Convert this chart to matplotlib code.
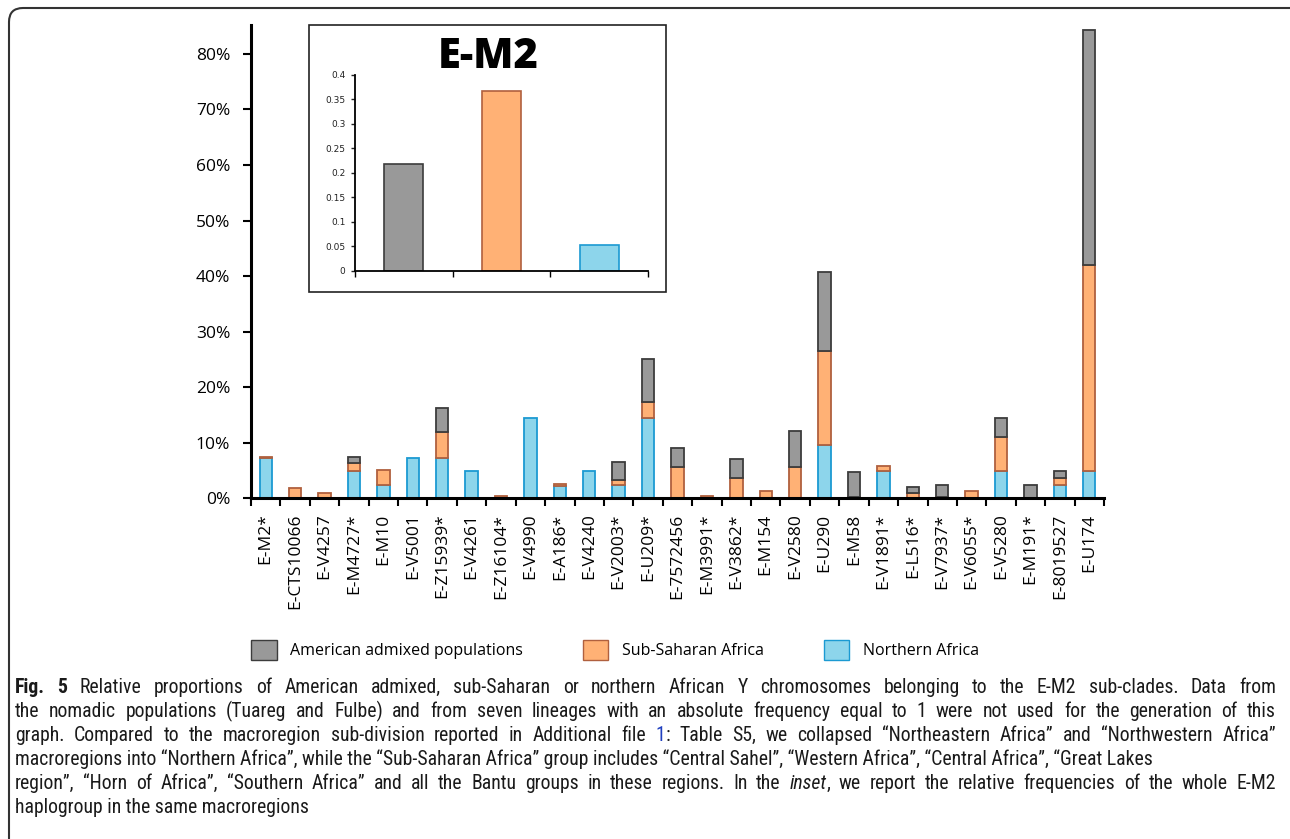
import numpy as np
import matplotlib
matplotlib.use('Agg')
import matplotlib.pyplot as plt
import matplotlib.patches as mpatches
from matplotlib.transforms import IdentityTransform
from matplotlib.ticker import PercentFormatter, FixedLocator

# sub-clades on the x axis
clades = ['E-M2*', 'E-CTS10066', 'E-V4257', 'E-M4727*', 'E-M10', 'E-V5001',
          'E-Z15939*', 'E-V4261', 'E-Z16104*', 'E-V4990', 'E-A186*', 'E-V4240',
          'E-V2003*', 'E-U209*', 'E-7572456', 'E-M3991*', 'E-V3862*', 'E-M154',
          'E-V2580', 'E-U290', 'E-M58', 'E-V1891*', 'E-L516*', 'E-V7937*',
          'E-V6055*', 'E-V5280', 'E-M191*', 'E-8019527', 'E-U174']

# relative proportions (%), stacked bottom -> top
northern = [7.2, 0, 0, 4.9, 2.35, 7.3, 7.2, 4.9, 0, 14.5, 2.3, 4.85, 2.35, 14.5,
            0, 0, 0, 0, 0, 9.65, 0, 4.85, 0, 0, 0, 4.85, 0, 2.35, 4.85]
subsaharan = [0.3, 1.85, 0.9, 1.4, 2.7, 0, 4.7, 0, 0.45, 0, 0.3, 0, 0.9, 2.9,
              5.6, 0.35, 3.7, 1.25, 5.6, 16.9, 0.3, 1.05, 0.9, 0.3, 1.25, 6.2,
              0, 1.35, 37.1]
admixed = [0, 0, 0, 1.1, 0, 0, 4.3, 0, 0, 0, 0, 0, 3.25, 7.7, 3.4, 0, 3.3, 0,
           6.6, 14.2, 4.4, 0, 1.2, 2.15, 0, 3.4, 2.35, 1.15, 42.4]

# inset: whole E-M2 haplogroup
inset_groups = ['American admixed populations', 'Sub-Saharan Africa', 'Northern Africa']
inset_values = [0.218, 0.367, 0.053]

grey, grey_e = '#999999', '#3c3c3c'
orange, orange_e = '#FFB175', '#B0603E'
blue, blue_e = '#8DD5EB', '#1B9AD2'

W, H = 1290, 839
dpi = 100
fig = plt.figure(figsize=(W / dpi, H / dpi), dpi=dpi)
tickfont = ['Open Sans', 'DejaVu Sans']

# ---- main stacked bar chart
ax = fig.add_axes([251 / W, 1 - 498.3 / H, (1104 - 251) / W, (498.3 - 25) / H])
xs = np.arange(len(clades))
n = np.array(northern)
s = np.array(subsaharan)
a = np.array(admixed)
bw = 0.42
def edges(vals, col):
    return [col if v > 0 else 'none' for v in vals]
ax.bar(xs, n, bw, color=blue, edgecolor=edges(n, blue_e), linewidth=1.3, zorder=2)
ax.bar(xs, s, bw, bottom=n, color=orange, edgecolor=edges(s, orange_e), linewidth=1.3, zorder=2)
ax.bar(xs, a, bw, bottom=n + s, color=grey, edgecolor=edges(a, grey_e), linewidth=1.3, zorder=2)

ax.set_xlim(-0.5, len(clades) - 0.5)
ax.set_ylim(0, 85.2)
ax.yaxis.set_major_locator(FixedLocator(np.arange(0, 81, 10)))
ax.yaxis.set_major_formatter(PercentFormatter(100, decimals=0))
ax.set_xticks(xs)
ax.set_xticklabels(clades, rotation=90, family=tickfont, fontsize=12.5)
ax.set_xticks(np.arange(-0.5, len(clades)), minor=True)
ax.tick_params(axis='x', which='major', length=0, pad=11)
ax.tick_params(axis='x', which='minor', length=6, width=1.5, direction='out')
ax.tick_params(axis='y', length=6, width=1.5, pad=9, labelsize=12.5)
for lab in ax.get_yticklabels():
    lab.set_family(tickfont)
for sp in ['top', 'right']:
    ax.spines[sp].set_visible(False)
for sp in ['left', 'bottom']:
    ax.spines[sp].set_linewidth(2.2)

# ---- inset
fig.patches.append(mpatches.Rectangle((309 / W, 1 - 292 / H), (666 - 309) / W, (292 - 25) / H,
                                      transform=fig.transFigure, facecolor='white',
                                      edgecolor='#222222', linewidth=1.2, zorder=3))
iax = fig.add_axes([355 / W, 1 - 270.7 / H, (648 - 355) / W, (270.7 - 75) / H], zorder=4)
iax.patch.set_alpha(0)
ix = np.arange(len(inset_values))
iax.bar(ix, inset_values, 0.4, color=[grey, orange, blue],
        edgecolor=[grey_e, orange_e, blue_e], linewidth=1.2)
iax.set_xlim(-0.5, 2.5)
iax.set_ylim(0, 0.4)
iax.set_yticks(np.arange(0, 0.41, 0.05))
iax.set_yticklabels(['0', '0.05', '0.1', '0.15', '0.2', '0.25', '0.3', '0.35', '0.4'])
iax.set_xticks([])
iax.set_xticks(np.arange(-0.5, 3), minor=True)
iax.tick_params(axis='x', which='minor', length=4, width=1, direction='out')
iax.tick_params(axis='y', length=3, width=1, pad=4, labelsize=6.5, colors='#222222')
for sp in ['top', 'right']:
    iax.spines[sp].set_visible(False)
for sp in ['left', 'bottom']:
    iax.spines[sp].set_linewidth(1.3)
fig.text(488 / W, 1 - 57 / H, 'E-M2', ha='center', va='center', fontsize=30,
         fontweight='heavy', family=['Open Sans', 'DejaVu Sans'], zorder=5)

# ---- legend
handles = [mpatches.Patch(facecolor=grey, edgecolor=grey_e, label=inset_groups[0]),
           mpatches.Patch(facecolor=orange, edgecolor=orange_e, label=inset_groups[1]),
           mpatches.Patch(facecolor=blue, edgecolor=blue_e, label=inset_groups[2])]
fig.legend(handles=handles, loc='center left', bbox_to_anchor=(251 / W, 1 - 650 / H),
           ncol=3, frameon=False, borderpad=0, borderaxespad=0,
           prop={'family': tickfont, 'size': 11.5},
           handlelength=1.6, handleheight=1.6, handletextpad=0.85, columnspacing=3.75)

# ---- caption, word-justified
capfont = ['Roboto Condensed', 'Roboto', 'DejaVu Sans']
lines = [
    ([[('Fig.', 'b')], [('5', 'b')]] + [[(w, '')] for w in
     'Relative proportions of American admixed, sub-Saharan or northern African Y chromosomes belonging to the E-M2 sub-clades. Data from'.split()], True),
    ([[(w, '')] for w in
     'the nomadic populations (Tuareg and Fulbe) and from seven lineages with an absolute frequency equal to 1 were not used for the generation of this'.split()], True),
    ([[(w, '')] for w in 'graph. Compared to the macroregion sub-division reported in Additional file'.split()]
     + [[('1', 'link'), (':', '')]]
     + [[(w, '')] for w in 'Table S5, we collapsed “Northeastern Africa” and “Northwestern Africa”'.split()], True),
    ('macroregions into “Northern Africa”, while the “Sub-Saharan Africa” group includes “Central Sahel”, “Western Africa”, “Central Africa”, “Great Lakes', False),
    ([[(w, '')] for w in 'region”, “Horn of Africa”, “Southern Africa” and all the Bantu groups in these regions. In the'.split()]
     + [[('inset', 'i'), (',', '')]]
     + [[(w, '')] for w in 'we report the relative frequencies of the whole E-M2'.split()], True),
    ('haplogroup in the same macroregions', False),
]
renderer = fig.canvas.get_renderer()
x0, x1 = 15, 1276

# pick a size so the un-justified 4th line ends where it does in the original
probe = fig.text(0, 0, lines[3][0], fontsize=13, family=capfont)
fs = 13 * (1147 - x0) / probe.get_window_extent(renderer).width
probe.remove()

for k, (words, justify) in enumerate(lines):
    yb = 1 - (693 + 24 * k) / H
    if not justify:
        fig.text(x0 / W, yb, words, fontsize=fs, family=capfont, va='baseline',
                 ha='left', color='#1a1a1a')
        continue
    objs = []
    widths = []
    for word in words:
        pieces = []
        wsum = 0
        for txt, st in word:
            kw = dict(fontsize=fs, family=capfont, va='baseline', ha='left', color='#1a1a1a')
            if st == 'b':
                kw['fontweight'] = 'bold'
            if st == 'i':
                kw['style'] = 'italic'
            if st == 'link':
                kw['color'] = '#1F3FBF'
            t = fig.text(0, yb, txt, **kw)
            w = t.get_window_extent(renderer).width
            pieces.append((t, w))
            wsum += w
        objs.append(pieces)
        widths.append(wsum)
    gap = (x1 - x0 - sum(widths)) / (len(words) - 1)
    x = x0
    for pieces, wsum in zip(objs, widths):
        xp = x
        for t, w in pieces:
            t.set_x(xp / W)
            xp += w
        x += wsum + gap

# ---- rounded frame around the whole figure
fig.patches.append(mpatches.FancyBboxPatch((9, -30), 1300, H - 8 + 30,
                                           boxstyle='round,pad=0,rounding_size=14',
                                           transform=IdentityTransform(), facecolor='none',
                                           edgecolor='#333333', linewidth=1.5))

fig.savefig('out.png', dpi=dpi)
